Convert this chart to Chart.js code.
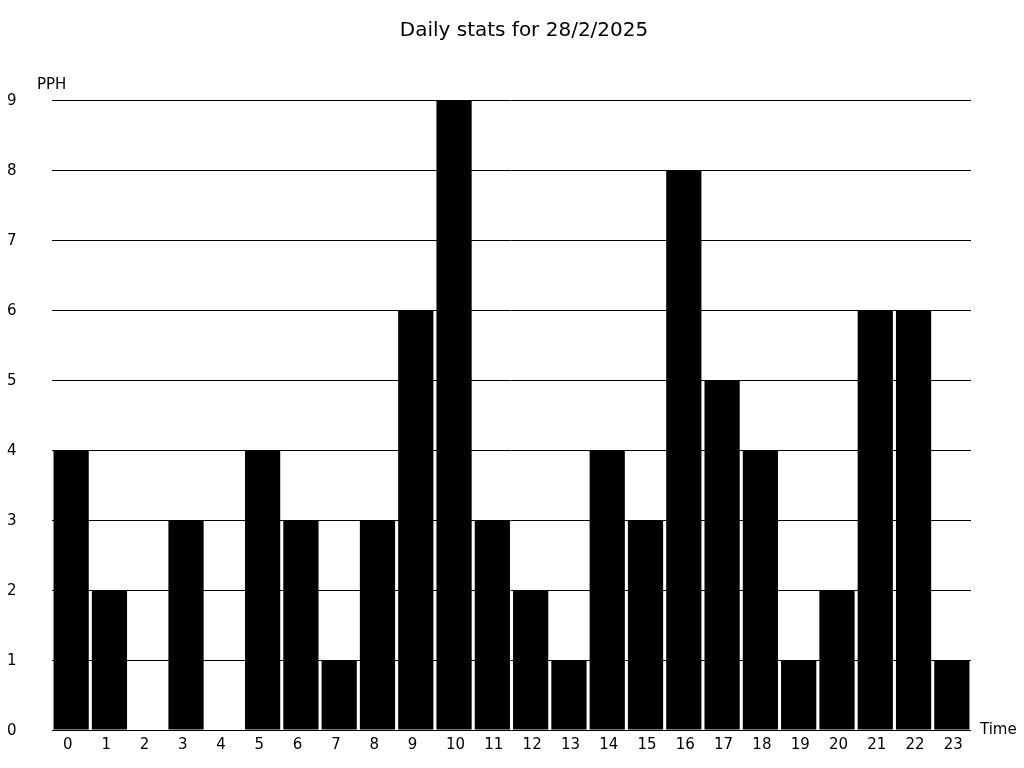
<!DOCTYPE html>
<html>
<head>
<meta charset="utf-8">
<script src="https://cdn.jsdelivr.net/npm/chart.js@4/dist/chart.umd.min.js"></script>
<style>
html,body{margin:0;padding:0;background:#fff;}
#wrap{width:1024px;height:768px;}
</style>
</head>
<body>
<div id="wrap"><canvas id="c" width="1024" height="768"></canvas></div>
<script>
const hours = ['0','1','2','3','4','5','6','7','8','9','10','11','12','13','14','15','16','17','18','19','20','21','22','23'];
const pph = [4,2,0,3,0,4,3,1,3,6,9,3,2,1,4,3,8,5,4,1,2,6,6,1];
const yTicks = [0,1,2,3,4,5,6,7,8,9];
const titleText = 'Daily stats for 28/2/2025';
const yLabel = 'PPH';
const xLabel = 'Time';

const FONT = "'DejaVu Sans', sans-serif";

const textPlugin = {
  id: 'textPlugin',
  afterDraw(chart) {
    const ctx = chart.ctx;
    const ca = chart.chartArea;
    ctx.save();
    ctx.fillStyle = '#000';
    ctx.textBaseline = 'middle';
    ctx.font = "20px " + FONT;
    ctx.textAlign = 'center';
    ctx.fillText(titleText, 524, 31);
    ctx.font = "15px " + FONT;
    ctx.textAlign = 'left';
    ctx.fillText(yLabel, 37, ca.top - 15);
    ctx.fillText(xLabel, ca.right + 9, ca.bottom);
    ctx.restore();
  }
};

new Chart(document.getElementById('c'), {
  type: 'bar',
  data: {
    labels: hours,
    datasets: [{
      data: pph,
      backgroundColor: '#000',
      borderWidth: 0,
      barPercentage: 0.92,
      categoryPercentage: 1.0
    }]
  },
  options: {
    responsive: false,
    animation: false,
    layout: { padding: { left: 7, right: 53, top: 100, bottom: 0 } },
    plugins: {
      legend: { display: false },
      tooltip: { enabled: false },
      title: { display: false }
    },
    scales: {
      x: {
        grid: { display: false },
        border: { display: false },
        ticks: {
          color: '#000', font: { family: FONT, size: 15 }, padding: -2, maxRotation: 0, autoSkip: false,
          labelOffset: 1.5,
          callback(v, i) { const s = hours[i]; return s.length === 1 ? s + '\u2007' : s; }
        },
        afterFit(scale) { scale.height = 38; }
      },
      y: {
        min: 0,
        max: 9,
        afterBuildTicks(scale) { scale.ticks = yTicks.map(v => ({ value: v })); },
        grid: { color: '#000', lineWidth: 1, drawTicks: false },
        border: { display: false },
        ticks: { color: '#000', font: { family: FONT, size: 15 }, padding: 0, crossAlign: 'far', labelOffset: 1.5 },
        afterFit(scale) { scale.width = 45; }
      }
    }
  },
  plugins: [textPlugin]
});
</script>
</body>
</html>
